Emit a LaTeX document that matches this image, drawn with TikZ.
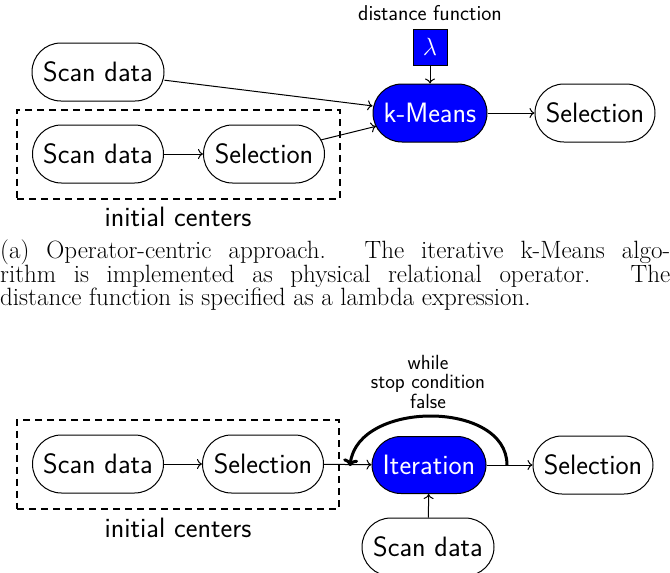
\documentclass[tikz,border=0pt]{standalone}
\usetikzlibrary{fit,arrows.meta}
\definecolor{opblue}{RGB}{0,0,255}
\newcommand{\nodefnt}{\sffamily\fontsize{28}{32}\selectfont}
\newcommand{\smallfnt}{\sffamily\fontsize{20.5}{19.5}\selectfont\lineskiplimit=-50pt\relax}
\newcommand{\capfnt}{\rmfamily\fontsize{25}{23.5}\selectfont\lineskiplimit=-50pt\relax}
\tikzset{
  op/.style={rectangle, rounded corners=28.9pt, draw=black, line width=1pt, minimum height=58pt,
    inner sep=0pt, font=\nodefnt, fill=white},
  bluefill/.style={fill=opblue, text=white},
  lambox/.style={rectangle, draw=black, line width=1pt, fill=opblue, text=white,
    minimum width=34pt, minimum height=36pt, inner sep=0pt, font=\nodefnt},
  conn/.style={line width=1pt, -{To[length=5pt,width=10pt]}},
  loopline/.style={line width=3pt, -{To[length=7pt,width=15pt]}},
  dashbox/.style={draw=black, line width=2pt, dash pattern=on 7pt off 5pt, inner sep=15pt},
  smalltext/.style={font=\smallfnt, inner sep=0pt, align=center},
  lbl/.style={font=\nodefnt, inner sep=0pt},
}
\begin{document}
\begin{tikzpicture}[x=1pt, y=-1pt]
\useasboundingbox (0,0) rectangle (670,573);
% ---- top diagram ----
\node[op, minimum width=132pt] (sd1) at (98,72) {Scan data};
\node[op, minimum width=131pt] (sd2) at (98,154) {Scan data};
\node[op, minimum width=121pt] (sel2) at (264,154) {Selection};
\node[op, bluefill, minimum width=114pt] (km) at (430,113) {k-Means};
\node[op, minimum width=120pt] (sel1) at (595,113) {Selection};
\node[lambox] (lam) at (430,47) {$\lambda$};
\node[smalltext, font=\sffamily\fontsize{21.5}{22}\selectfont, anchor=base] (df) at (430,20) {distance function};
\node[dashbox, fit=(sd2)(sel2)] (ic1) {};
\node[lbl, anchor=base] (iclab1) at (178,226) {initial centers};
\draw[conn] (sd1) -- (km);
\draw[conn] (sd2) -- (sel2);
\draw[conn, shorten <=-4pt, shorten >=-3.5pt] (sel2) -- (km);
\draw[conn] (km) -- (sel1);
\draw[conn] (lam) -- (km);
% ---- caption ----
\node[anchor=north west, inner sep=0pt, text width=670pt, align=justify, font=\capfnt] (cap) at (0,240)
 {(a) Operator-centric approach. The iterative k-Means algo-\linebreak rithm is implemented as physical relational operator. The\linebreak distance function is specified as a lambda expression.};
% ---- bottom diagram ----
\node[op, minimum width=131pt] (sd3) at (98,464) {Scan data};
\node[op, minimum width=121pt] (sel3) at (263,464) {Selection};
\node[op, bluefill, minimum width=114pt, minimum height=57pt] (it) at (429,465) {Iteration};
\node[op, minimum width=120pt] (sel4) at (593,465) {Selection};
\node[op, minimum width=132pt] (sd4) at (428,547) {Scan data};
\node[dashbox, fit=(sd3)(sel3)] (ic2) {};
\node[lbl, anchor=base] (iclab2) at (178,537) {initial centers};
\node[smalltext, anchor=north] (wh) at (428,355) {while\\stop condition\\false};
\draw[conn] (sd3) -- (sel3);
\draw[conn] (sel3) -- (it);
\draw[conn] (it) -- (sel4);
\draw[conn] (sd4) -- (it);
\coordinate (lpS) at (507,465);
\coordinate (lpE) at (350,466);
\draw[loopline] (lpS) .. controls (507,400) and (358,400) .. (lpE);
\end{tikzpicture}
\end{document}
